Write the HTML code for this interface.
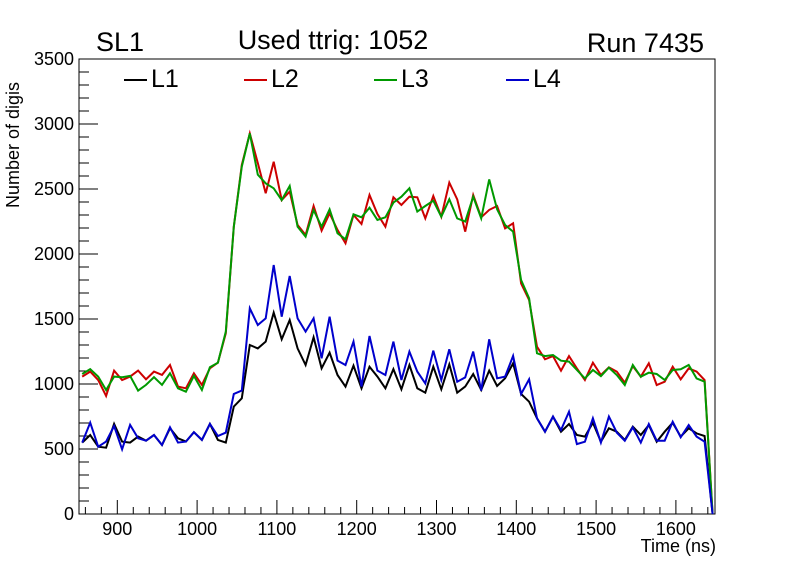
<!DOCTYPE html>
<html><head><meta charset="utf-8"><style>
body{margin:0;background:#fff;}
svg{display:block;font-family:"Liberation Sans",Arial,sans-serif;}
</style></head><body>
<svg id="c" width="796" height="572" xmlns="http://www.w3.org/2000/svg">
<rect width="796" height="572" fill="#fff"/>
<text x="96" y="51" font-size="27">SL1</text>
<text x="333" y="49" font-size="27" text-anchor="middle">Used ttrig: 1052</text>
<text x="704" y="52" font-size="27" text-anchor="end">Run 7435</text>
<text transform="translate(19,145) rotate(-90)" font-size="18" text-anchor="middle">Number of digis</text>
<text x="716" y="552" font-size="18" text-anchor="end">Time (ns)</text>
<g id="axes"></g>
<g id="series"></g>
<g id="legend"></g>
</svg>
<script>
const binCenters=[];for(let k=0;k<80;k++)binCenters.push(856+10*k);
const xTicks=[900,1000,1100,1200,1300,1400,1500,1600];
const yTicks=[0,500,1000,1500,2000,2500,3000,3500];
const seriesNames=["L1","L2","L3","L4"];
const seriesColors=["#000000","#cc0000","#009900","#0000cc"];
const L1=[549,608,518,510,693,557,549,595,564,608,531,659,582,557,629,570,693,570,549,826,890,1300,1274,1326,1549,1344,1492,1274,1146,1359,1121,1241,1069,980,1141,967,1133,1057,967,1115,959,1146,967,933,1133,959,1151,933,980,1077,954,1103,985,1044,1159,923,864,736,633,749,633,692,608,595,702,556,659,633,569,672,608,684,556,633,702,595,659,620,600,0];
const L2=[1057,1095,1031,908,1103,1031,1057,1103,1036,1095,1070,1146,980,967,1082,993,1121,1164,1390,2210,2685,2928,2700,2467,2710,2415,2480,2223,2146,2369,2180,2313,2185,2082,2300,2231,2454,2308,2210,2436,2377,2441,2436,2274,2446,2287,2549,2421,2172,2454,2282,2339,2369,2197,2236,1774,1646,1287,1190,1215,1102,1215,1120,1031,1164,1069,1128,1095,1010,1138,1056,1159,992,1018,1133,1036,1120,1095,1031,0];
const L3=[1077,1115,1057,954,1057,1052,1062,949,993,1052,993,1082,967,941,1062,954,1129,1164,1403,2210,2672,2928,2610,2544,2505,2415,2523,2210,2133,2338,2210,2344,2159,2113,2305,2282,2356,2262,2282,2395,2441,2505,2326,2369,2410,2287,2421,2274,2249,2441,2274,2574,2344,2223,2172,1800,1659,1236,1215,1223,1179,1172,1108,1043,1108,1061,1126,1069,992,1146,1056,1087,1077,1031,1108,1113,1146,1043,1018,0];
const L4=[549,703,518,557,677,498,685,582,564,608,531,667,549,557,629,570,693,600,626,923,949,1582,1454,1505,1915,1518,1831,1505,1403,1505,1198,1518,1180,1146,1326,980,1369,1103,1069,1326,1031,1249,1095,1005,1257,1031,1267,1018,1051,1249,949,1344,1044,1057,1216,923,1036,736,633,749,646,787,538,556,736,549,749,626,564,667,549,692,564,564,710,590,684,595,556,0];
const allSeries=[L1,L2,L3,L4];
const NS="http://www.w3.org/2000/svg";
const X0=79,X1=715,Y0=514,Y1=59,xmin=852,xmax=1649,ymin=0,ymax=3500;
const sx=v=>X0+(v-xmin)/(xmax-xmin)*(X1-X0);
const sy=v=>Y0-(v-ymin)/(ymax-ymin)*(Y0-Y1);
function mk(t,a,p){const e=document.createElementNS(NS,t);for(const k in a)e.setAttribute(k,a[k]);p.appendChild(e);return e;}
const axes=document.getElementById('axes');
const frame=mk('rect',{x:X0,y:Y1,width:X1-X0,height:Y0-Y1,fill:'none',stroke:'#000','stroke-width':1},axes);


for(let v=0;v<=3500;v+=100){
  const maj=v%500===0;
  const t=mk('line',{x1:X0,x2:X0+(maj?19:10),y1:sy(v),y2:sy(v),stroke:'#000','stroke-width':1},axes);
  
  
}
yTicks.forEach(v=>{
  const t=mk('text',{x:74,y:sy(v)+6,'font-size':18,'text-anchor':'end'},axes);t.textContent=v;
  
  
});
for(let v=860;v<=1640;v+=20){
  const maj=v%100===0;
  const t=mk('line',{x1:sx(v),x2:sx(v),y1:Y0,y2:Y0-(maj?14:7),stroke:'#000','stroke-width':1},axes);
  
  
}
xTicks.forEach(v=>{
  const t=mk('text',{x:sx(v),y:535,'font-size':18,'text-anchor':'middle'},axes);t.textContent=v;
  
  
});
const sg=document.getElementById('series');
allSeries.forEach((s,i)=>{
  const pts=s.map((v,k)=>sx(binCenters[k]).toFixed(1)+','+sy(v).toFixed(1)).join(' ');
  const p=mk('polyline',{points:pts,fill:'none',stroke:seriesColors[i],'stroke-width':2,'stroke-linejoin':'miter'},sg);
  
  
});
const lg=document.getElementById('legend');
const lx=[124,244,374,506];
seriesNames.forEach((n,i)=>{
  const g=mk('g',{},lg);
  
  
  mk('line',{x1:lx[i],x2:lx[i]+23,y1:80,y2:80,stroke:seriesColors[i],'stroke-width':2},g);
  const t=mk('text',{x:lx[i]+27,y:87,'font-size':25},g);t.textContent=n;
});
</script>
</body></html>
